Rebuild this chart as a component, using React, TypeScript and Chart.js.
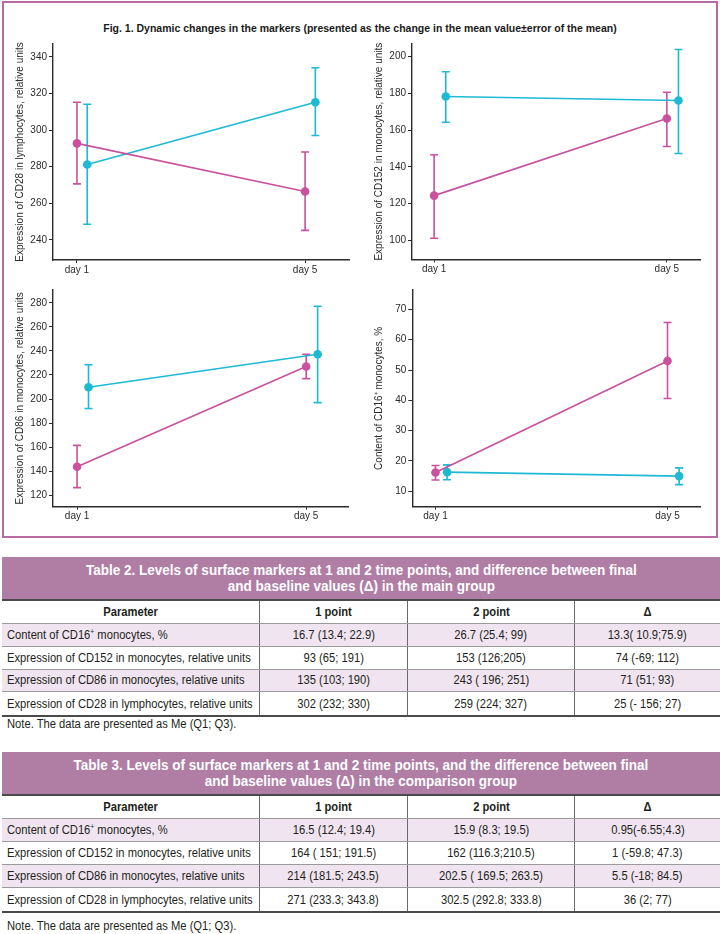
import React, { useEffect, useRef } from "react";
import { Chart, registerables } from "chart.js";

Chart.register(...registerables);

// ---------- data ----------
const DAY_LABELS = ["day 1", "day 5"];
const DAY_POS = [1, 5];

const cd28Main = [292.7, 266.4];
const cd28MainLo = [270.6, 245.2];
const cd28MainHi = [315.2, 288.0];
const cd28Comp = [281.2, 315.2];
const cd28CompLo = [248.5, 297.0];
const cd28CompHi = [314.1, 334.0];
const cd28Ticks = [240, 260, 280, 300, 320, 340];

const cd152Main = [124.4, 166.3];
const cd152MainLo = [101.2, 151.1];
const cd152MainHi = [146.6, 180.6];
const cd152Comp = [178.3, 176.1];
const cd152CompLo = [164.3, 147.3];
const cd152CompHi = [191.7, 203.8];
const cd152Ticks = [100, 120, 140, 160, 180, 200];

const cd86Main = [143.6, 227.1];
const cd86MainLo = [126.3, 217.0];
const cd86MainHi = [161.4, 237.3];
const cd86Comp = [209.8, 237.3];
const cd86CompLo = [192.1, 197.0];
const cd86CompHi = [228.5, 277.2];
const cd86Ticks = [120, 140, 160, 180, 200, 220, 240, 260, 280];

const cd16Main = [16.2, 53.0];
const cd16MainLo = [13.7, 40.6];
const cd16MainHi = [18.5, 65.7];
const cd16Comp = [16.3, 15.0];
const cd16CompLo = [13.8, 12.2];
const cd16CompHi = [18.7, 17.7];
const cd16Ticks = [10, 20, 30, 40, 50, 60, 70];

const TABLE_HEAD = ["Parameter", "1 point", "2 point", "Δ"];
const PARAMS = [
  "Content of CD16+ monocytes, %",
  "Expression of CD152 in monocytes, relative units",
  "Expression of CD86 in monocytes, relative units",
  "Expression of CD28 in lymphocytes, relative units",
];
const t2Point1 = ["16.7 (13.4; 22.9)", "93 (65; 191)", "135 (103; 190)", "302 (232; 330)"];
const t2Point2 = ["26.7 (25.4; 99)", "153 (126;205)", "243 ( 196; 251)", "259 (224; 327)"];
const t2Delta = ["13.3( 10.9;75.9)", "74 (-69; 112)", "71 (51; 93)", "25 (- 156; 27)"];
const t3Point1 = ["16.5 (12.4; 19.4)", "164 ( 151; 191.5)", "214 (181.5; 243.5)", "271 (233.3; 343.8)"];
const t3Point2 = ["15.9 (8.3; 19.5)", "162 (116.3;210.5)", "202.5 ( 169.5; 263.5)", "302.5 (292.8; 333.8)"];
const t3Delta = ["0.95(-6.55;4.3)", "1 (-59.8; 47.3)", "5.5 (-18; 84.5)", "36 (2; 77)"];

// ---------- styles ----------
const PINK = "#c9519d";
const BLUE = "#1db9d5";
const AXIS = "#2b2b2b";
const TEXT = "#2b2b2b";
const MAUVE = "#b07da5";
const FRAME = "#b86aa1";
const LAV = "#efe4ef";
const SANS = "'Liberation Sans', Arial, sans-serif";

const errorBarPlugin = {
  id: "errorBars",
  beforeDatasetsDraw(chart: any) {
    const { ctx } = chart;
    const xs = chart.scales.x;
    const ys = chart.scales.y;
    chart.data.datasets.forEach((ds: any) => {
      ctx.save();
      ctx.strokeStyle = ds.borderColor;
      ctx.lineWidth = 1.6;
      ds.data.forEach((pt: any, i: number) => {
        const px = xs.getPixelForValue(pt.x);
        const yl = ys.getPixelForValue(ds.errLo[i]);
        const yh = ys.getPixelForValue(ds.errHi[i]);
        ctx.beginPath();
        ctx.moveTo(px, yl);
        ctx.lineTo(px, yh);
        ctx.moveTo(px - 4, yl);
        ctx.lineTo(px + 4, yl);
        ctx.moveTo(px - 4, yh);
        ctx.lineTo(px + 4, yh);
        ctx.stroke();
      });
      ctx.restore();
    });
  },
};

type PanelDef = {
  main: number[]; mainLo: number[]; mainHi: number[];
  comp: number[]; compLo: number[]; compHi: number[];
  ticks: number[]; yMin: number; yMax: number; xMin: number; xMax: number; dodge: number;
  title: string;
  box: { left: number; top: number; w: number; h: number };
  yW: number; xH: number; padTop: number; padRight: number;
};

const PANELS: PanelDef[] = [
  {
    main: cd28Main, mainLo: cd28MainLo, mainHi: cd28MainHi,
    comp: cd28Comp, compLo: cd28CompLo, compHi: cd28CompHi,
    ticks: cd28Ticks, yMin: 229, yMax: 347, xMin: 0.58, xMax: 5.77, dodge: 0.18,
    title: "Expression of CD28 in lymphocytes, relative units",
    box: { left: 5, top: 36, w: 350, h: 250 }, yW: 48, xH: 26, padTop: 5, padRight: 6,
  },
  {
    main: cd152Main, mainLo: cd152MainLo, mainHi: cd152MainHi,
    comp: cd152Comp, compLo: cd152CompLo, compHi: cd152CompHi,
    ticks: cd152Ticks, yMin: 89.8, yMax: 206.8, xMin: 0.62, xMax: 5.57, dodge: 0.2,
    title: "Expression of CD152 in monocytes, relative units",
    box: { left: 364, top: 36, w: 350, h: 250 }, yW: 48, xH: 26.7, padTop: 5.7, padRight: 14,
  },
  {
    main: cd86Main, mainLo: cd86MainLo, mainHi: cd86MainHi,
    comp: cd86Comp, compLo: cd86CompLo, compHi: cd86CompHi,
    ticks: cd86Ticks, yMin: 110.4, yMax: 290.7, xMin: 0.58, xMax: 5.73, dodge: 0.2,
    title: "Expression of CD86 in monocytes, relative units",
    box: { left: 5, top: 282, w: 350, h: 250 }, yW: 48, xH: 25.3, padTop: 5.3, padRight: 7,
  },
  {
    main: cd16Main, mainLo: cd16MainLo, mainHi: cd16MainHi,
    comp: cd16Comp, compLo: cd16CompLo, compHi: cd16CompHi,
    ticks: cd16Ticks, yMin: 4.9, yMax: 76.4, xMin: 0.6, xMax: 5.56, dodge: 0.2,
    title: "Content of CD16\u207A monocytes, %",
    box: { left: 364, top: 282, w: 350, h: 250 }, yW: 48.3, xH: 25.3, padTop: 5, padRight: 14,
  },
];

function makeConfig(p: PanelDef): any {
  const common = { showLine: true, borderWidth: 1.6, pointRadius: 4.3, pointHoverRadius: 4.3, pointBorderWidth: 0 };
  return {
    type: "scatter",
    data: {
      datasets: [
        {
          ...common,
          label: "Main group",
          data: p.main.map((v, i) => ({ x: DAY_POS[i], y: v })),
          errLo: p.mainLo, errHi: p.mainHi,
          borderColor: PINK, backgroundColor: PINK,
        },
        {
          ...common,
          label: "Comparison group",
          data: p.comp.map((v, i) => ({ x: DAY_POS[i] + p.dodge, y: v })),
          errLo: p.compLo, errHi: p.compHi,
          borderColor: BLUE, backgroundColor: BLUE,
        },
      ],
    },
    options: {
      animation: false,
      responsive: false,
      devicePixelRatio: 1,
      layout: { padding: { top: p.padTop, right: p.padRight, left: 0, bottom: 0 } },
      plugins: { legend: { display: false }, tooltip: { enabled: false } },
      scales: {
        x: {
          type: "linear",
          min: p.xMin,
          max: p.xMax,
          afterBuildTicks: (s: any) => { s.ticks = DAY_POS.map((v) => ({ value: v })); },
          ticks: {
            callback: (_v: any, i: number) => DAY_LABELS[i],
            color: TEXT, font: { family: SANS, size: 10 }, padding: 1, maxRotation: 0,
          },
          grid: { drawOnChartArea: false, drawTicks: true, tickLength: 3, color: AXIS, lineWidth: 1 },
          border: { color: AXIS, width: 1.4 },
          afterFit: (s: any) => { s.height = p.xH; },
        },
        y: {
          type: "linear",
          min: p.yMin,
          max: p.yMax,
          afterBuildTicks: (s: any) => { s.ticks = p.ticks.map((v) => ({ value: v })); },
          ticks: { callback: (v: any) => String(v), color: TEXT, font: { family: SANS, size: 10 }, padding: 2 },
          grid: { drawOnChartArea: false, drawTicks: true, tickLength: 4, color: AXIS, lineWidth: 1 },
          border: { color: AXIS, width: 1.4 },
          title: { display: true, text: p.title, color: TEXT, font: { family: SANS, size: 10 }, padding: { top: 9.5, bottom: 0 } },
          afterFit: (s: any) => { s.width = p.yW; },
        },
      },
    },
    plugins: [errorBarPlugin],
  };
}

function PanelChart({ p }: { p: PanelDef }) {
  const ref = useRef<HTMLCanvasElement>(null);
  useEffect(() => {
    const chart = new Chart(ref.current as HTMLCanvasElement, makeConfig(p));
    return () => chart.destroy();
  }, [p]);
  return (
    <canvas
      ref={ref}
      width={p.box.w}
      height={p.box.h}
      style={{ position: "absolute", left: p.box.left, top: p.box.top, width: p.box.w, height: p.box.h }}
    />
  );
}

// Narrow text helper: Liberation Sans squeezed horizontally to mimic a condensed face
function N({ children, origin = "center", sx = 0.895 }: { children: React.ReactNode; origin?: string; sx?: number }) {
  return (
    <span style={{ display: "inline-block", whiteSpace: "nowrap", transform: `scaleX(${sx})`, transformOrigin: origin }}>
      {children}
    </span>
  );
}

function paramCell(s: string) {
  if (s.startsWith("Content of CD16+")) {
    return (
      <>
        Content of CD16<sup style={{ fontSize: "60%", verticalAlign: "super", lineHeight: 0 }}>+</sup> monocytes, %
      </>
    );
  }
  return s;
}

const COL_W = [257, 148, 167, 146];

function DataTable(props: {
  top: number; titleLines: string[]; p1: string[]; p2: string[]; d: string[];
  rowH: number; noteTop: number;
}) {
  const { top, titleLines, p1, p2, d, rowH, noteTop } = props;
  const row = (cells: React.ReactNode[], bold: boolean, bg: string, h: number, last: boolean, key: string) => (
    <div
      key={key}
      style={{
        display: "flex",
        height: h,
        boxSizing: "border-box",
        borderBottom: last ? "none" : "1px solid #9a9a9a",
        background: bg,
        fontWeight: bold ? 700 : 400,
      }}
    >
      {cells.map((c, i) => {
        const left = i === 0 && !bold;
        return (
          <div
            key={i}
            style={{
              boxSizing: "border-box",
              display: "flex",
              alignItems: "center",
              height: "100%",
              overflow: "visible",
              width: COL_W[i],
              borderLeft: i === 0 ? "none" : "1px solid #6a6a6a",
              justifyContent: left ? "flex-start" : "center",
              paddingLeft: left ? 5 : 0,
            }}
          >
            <N origin={left ? "left center" : "center"}>{c}</N>
          </div>
        );
      })}
    </div>
  );
  return (
    <>
      <div
        style={{
          position: "absolute", left: 2, top, width: 718, height: 42, background: MAUVE,
          color: "#fff", fontFamily: SANS, fontWeight: 700, fontSize: 14, lineHeight: "16px",
          display: "flex", flexDirection: "column", justifyContent: "center", alignItems: "center",
        }}
      >
        {titleLines.map((l, i) => (
          <div key={i}>
            <N sx={0.965}>{l}</N>
          </div>
        ))}
      </div>
      <div
        style={{
          position: "absolute", left: 2, top: top + 42, width: 718,
          borderTop: "2px solid #4a4a4a", borderBottom: "2px solid #4a4a4a",
          fontFamily: SANS, fontSize: 12.5, color: "#231f20",
        }}
      >
        {row(TABLE_HEAD, true, "#fff", 23, false, "h")}
        {PARAMS.map((pr, i) =>
          row([paramCell(pr), p1[i], p2[i], d[i]], false, i % 2 === 0 ? LAV : "#fff", rowH, i === 3, "r" + i)
        )}
      </div>
      <div
        style={{
          position: "absolute", left: 7, top: noteTop, fontFamily: SANS, fontSize: 12.5, color: "#231f20",
          lineHeight: "14px",
        }}
      >
        <N origin="left center">Note. The data are presented as Me (Q1; Q3).</N>
      </div>
    </>
  );
}

export default function App() {
  return (
    <div style={{ position: "absolute", left: 0, top: 0, width: 720, height: 934, background: "#fff", overflow: "hidden" }}>
      <div
        style={{
          position: "absolute", left: 2, top: 1, width: 716, height: 537, boxSizing: "border-box",
          border: `2px solid ${FRAME}`,
        }}
      />
      <div
        style={{
          position: "absolute", left: 0, top: 22, width: 720, textAlign: "center",
          fontFamily: SANS, fontWeight: 700, fontSize: 10.5, color: "#1a1a1a", lineHeight: "12px",
        }}
      >
        Fig. 1. Dynamic changes in the markers (presented as the change in the mean value±error of the mean)
      </div>
      {PANELS.map((p, i) => (
        <PanelChart key={i} p={p} />
      ))}
      <DataTable
        top={557}
        titleLines={[
          "Table 2. Levels of surface markers at 1 and 2 time points, and difference between final",
          "and baseline values (Δ) in the main group",
        ]}
        p1={t2Point1}
        p2={t2Point2}
        d={t2Delta}
        rowH={22.75}
        noteTop={717}
      />
      <DataTable
        top={752}
        titleLines={[
          "Table 3. Levels of surface markers at 1 and 2 time points, and the difference between final",
          "and baseline values (Δ) in the comparison group",
        ]}
        p1={t3Point1}
        p2={t3Point2}
        d={t3Delta}
        rowH={23}
        noteTop={919}
      />
    </div>
  );
}
